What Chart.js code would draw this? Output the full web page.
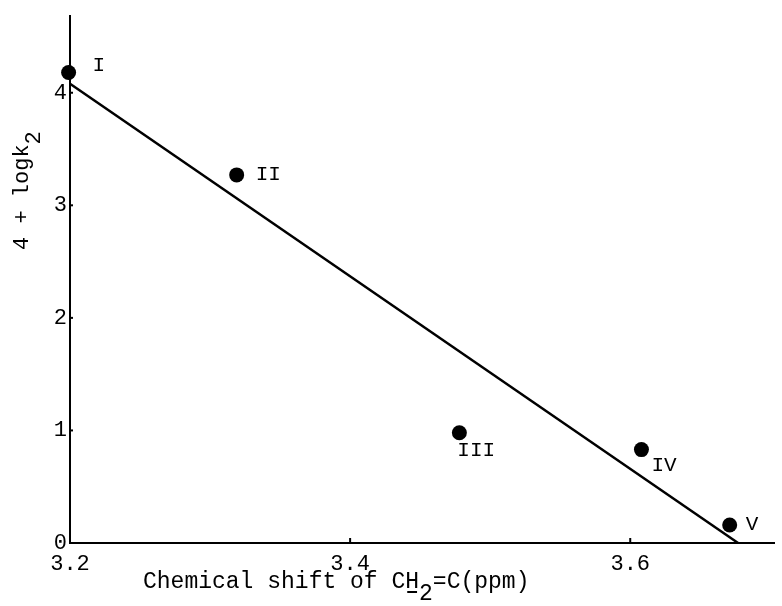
<!DOCTYPE html>
<html>
<head>
<meta charset="utf-8">
<script src="https://cdn.jsdelivr.net/npm/chart.js@4.4.0/dist/chart.umd.min.js"></script>
<style>
  html, body { margin: 0; padding: 0; background: #fff; }
  #wrap { width: 782px; height: 606px; }
</style>
</head>
<body>
<div id="wrap"><canvas id="chart" width="782" height="606"></canvas></div>
<script>
// measured points (chemical shift vs 4 + log k2)
const shiftPpm = [3.199, 3.319, 3.478, 3.608, 3.671];
const logK = [4.18, 3.27, 0.98, 0.83, 0.16];
const compoundLabels = ['I', 'II', 'III', 'IV', 'V'];

// fitted straight line end points
const fitX = [3.2, 3.677];
const fitY = [4.08, 0];

const xTicks = [3.2, 3.4, 3.6];
const yTicks = [0, 1, 2, 3, 4];

const MONO = "'Liberation Mono', 'Courier New', monospace";

// label placement relative to each point (dx, dy in px)
const labelOffsets = [[24, -7], [19, 0], [-2, 18], [10, 16], [16, -1]];

const extras = {
  id: 'extras',
  afterDatasetsDraw(chart) {
    const { ctx, chartArea, scales: { x, y } } = chart;
    ctx.save();
    ctx.fillStyle = '#000';
    ctx.strokeStyle = '#000';

    // small inward tick marks
    ctx.lineWidth = 2;
    yTicks.slice(1).forEach(v => {
      const py = y.getPixelForValue(v);
      ctx.beginPath();
      ctx.moveTo(chartArea.left, py);
      ctx.lineTo(chartArea.left + 3, py);
      ctx.stroke();
    });
    xTicks.slice(1).forEach(v => {
      const px = x.getPixelForValue(v);
      ctx.beginPath();
      ctx.moveTo(px, chartArea.bottom);
      ctx.lineTo(px, chartArea.bottom - 5);
      ctx.stroke();
    });

    // compound labels
    ctx.font = '21px ' + MONO;
    ctx.textAlign = 'left';
    ctx.textBaseline = 'middle';
    const meta = chart.getDatasetMeta(0);
    meta.data.forEach((pt, i) => {
      const [dx, dy] = labelOffsets[i];
      ctx.fillText(compoundLabels[i], pt.x + dx, pt.y + dy);
    });

    // x axis title with underlined H and subscript 2
    ctx.font = '23px ' + MONO;
    ctx.textBaseline = 'alphabetic';
    let tx = chartArea.left + 73;
    const ty = chartArea.bottom + 45;
    const parts = [
      ['Chemical shift of C', 0, false],
      ['H', 0, true],
      ['2', 12, false],
      ['=C(ppm)', 0, false]
    ];
    parts.forEach(([t, off, under]) => {
      ctx.fillText(t, tx, ty + off);
      const w = ctx.measureText(t).width;
      if (under) ctx.fillRect(tx + 2, ty + 3, w - 4, 2);
      tx += w;
    });

    // y axis title, rotated, with subscript 2
    ctx.font = '22px ' + MONO;
    ctx.translate(chartArea.left - 42, chartArea.bottom - 293);
    ctx.rotate(-Math.PI / 2);
    ctx.fillText('4 + logk', 0, 0);
    const w = ctx.measureText('4 + logk').width;
    ctx.fillText('2', w, 12);
    ctx.restore();
  }
};

new Chart(document.getElementById('chart'), {
  type: 'scatter',
  data: {
    datasets: [
      {
        label: 'compounds',
        data: shiftPpm.map((v, i) => ({ x: v, y: logK[i] })),
        pointRadius: 7.5,
        pointHoverRadius: 7.5,
        backgroundColor: '#000',
        borderColor: '#000',
        borderWidth: 0,
        clip: false
      },
      {
        label: 'fit',
        data: fitX.map((v, i) => ({ x: v, y: fitY[i] })),
        showLine: true,
        borderColor: '#000',
        borderWidth: 2.5,
        pointRadius: 0,
        fill: false,
        clip: false
      }
    ]
  },
  options: {
    responsive: false,
    animation: false,
    layout: { padding: { top: 13, left: 0, right: 0, bottom: 0 } },
    plugins: { legend: { display: false }, tooltip: { enabled: false } },
    scales: {
      x: {
        type: 'linear',
        min: 3.2,
        max: 3.703,
        afterBuildTicks: s => { s.ticks = xTicks.map(v => ({ value: v })); },
        afterFit: s => { s.height = 63; },
        grid: { display: false, drawTicks: false },
        border: { color: '#000', width: 2 },
        ticks: {
          color: '#000',
          font: { family: MONO, size: 22 },
          padding: 8,
          maxRotation: 0,
          autoSkip: false,
          callback: v => v.toFixed(1)
        }
      },
      y: {
        type: 'linear',
        min: 0,
        max: 4.68,
        afterBuildTicks: s => { s.ticks = yTicks.map(v => ({ value: v })); },
        afterFit: s => { s.width = 70; },
        grid: { display: false, drawTicks: false },
        border: { color: '#000', width: 2 },
        ticks: {
          color: '#000',
          font: { family: MONO, size: 22 },
          padding: 3,
          autoSkip: false,
          callback: v => String(v)
        }
      }
    }
  },
  plugins: [extras]
});
</script>
</body>
</html>
